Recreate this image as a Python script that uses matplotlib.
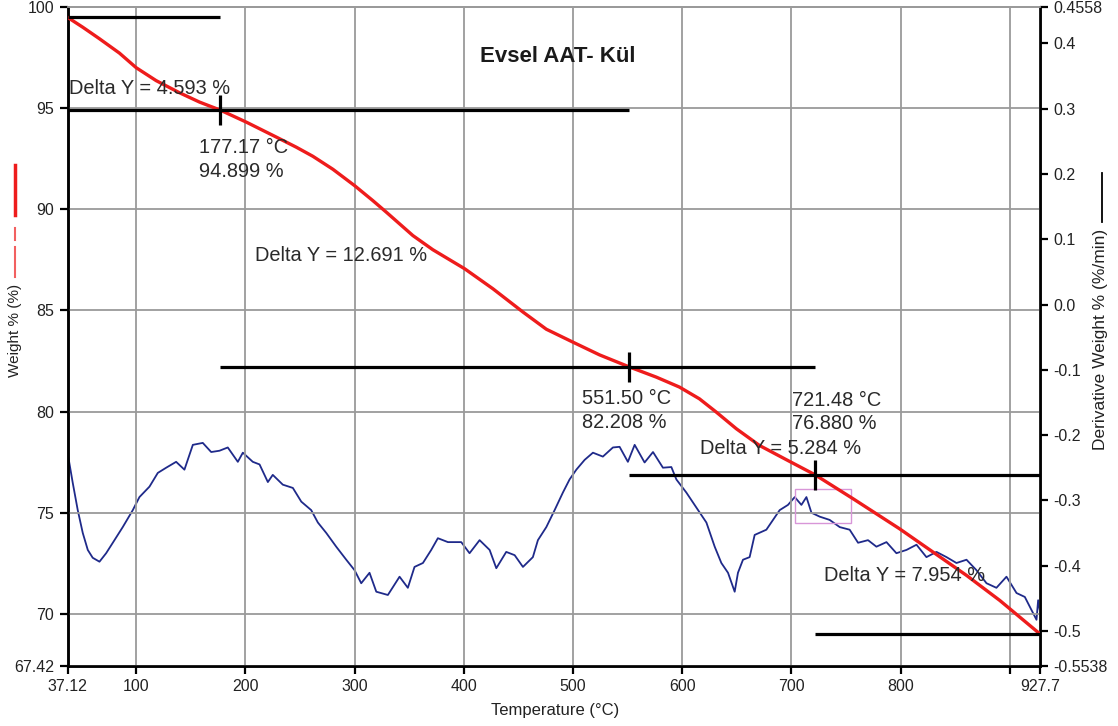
"""TGA / DTG plot: Evsel AAT- Kül."""
import matplotlib
matplotlib.use("Agg")
import matplotlib.pyplot as plt
from matplotlib.lines import Line2D
from matplotlib.patches import Rectangle

plt.rcParams["font.family"] = ["Liberation Sans", "DejaVu Sans"]

# Weight % curve (left axis)
red_t = [37.12, 51.1, 66.4, 84.7, 100.0, 118.3, 139.7, 158.0, 177.17, 200.8,
         228.3, 246.6, 261.8, 280.1, 300.0, 316.7, 329.0, 341.2, 353.4, 371.7,
         400.8, 426.7, 454.2, 475.6, 500.0, 524.4, 551.5, 576.4, 597.5, 615.8,
         631.3, 649.6, 670.9, 695.4, 721.48, 756.5, 799.2, 829.8, 860.4, 890.9,
         926.0, 927.7]
red_w = [99.49, 99.00, 98.43, 97.72, 97.00, 96.36, 95.76, 95.30, 94.899, 94.31,
         93.57, 93.07, 92.62, 91.98, 91.17, 90.43, 89.86, 89.28, 88.70, 88.00,
         87.06, 86.07, 84.92, 84.07, 83.43, 82.80, 82.208, 81.70, 81.21, 80.63,
         79.97, 79.15, 78.32, 77.62, 76.880, 75.69, 74.20, 73.05, 71.90, 70.66,
         69.08, 69.00]

# Derivative weight curve (right axis)
blue_t = [37.12, 37.4, 37.8, 41.9, 46.5, 51.1, 55.7, 60.2, 66.4, 72.5,
          78.6, 87.7, 96.9, 103.0, 112.2, 119.8, 127.5, 136.6, 144.2, 151.9,
          161.0, 168.7, 176.3, 183.9, 193.1, 197.7, 206.8, 213.0, 220.6, 225.1,
          234.3, 243.5, 251.2, 260.3, 266.4, 274.1, 283.2, 292.4, 300.0, 306.1,
          313.7, 319.9, 330.5, 335.1, 341.2, 348.8, 354.9, 362.6, 370.2, 376.3,
          385.5, 397.7, 405.3, 414.5, 423.7, 429.8, 438.9, 446.6, 454.2, 463.3,
          467.9, 475.6, 483.2, 490.8, 496.9, 503.1, 510.7, 518.3, 527.4, 536.6,
          542.7, 550.3, 556.5, 565.6, 573.3, 582.4, 590.1, 594.7, 603.8, 613.0,
          622.2, 629.8, 635.9, 642.0, 648.1, 651.1, 655.7, 661.8, 666.4, 677.1,
          683.2, 689.3, 696.9, 703.1, 709.2, 713.8, 718.4, 726.0, 735.1, 744.3,
          753.4, 761.1, 770.2, 777.9, 787.1, 796.2, 805.4, 814.6, 823.7, 832.9,
          842.1, 851.2, 860.4, 869.5, 878.7, 887.8, 897.0, 906.2, 913.8, 919.9,
          924.5, 926.0, 927.7]
blue_v = [-0.509, -0.212, -0.233, -0.273, -0.315, -0.350, -0.376, -0.388, -0.394, -0.381,
          -0.365, -0.341, -0.315, -0.295, -0.279, -0.258, -0.250, -0.241, -0.253, -0.215,
          -0.212, -0.226, -0.224, -0.219, -0.241, -0.227, -0.241, -0.245, -0.272, -0.261,
          -0.276, -0.281, -0.302, -0.315, -0.334, -0.350, -0.371, -0.391, -0.407, -0.427,
          -0.411, -0.440, -0.445, -0.433, -0.417, -0.434, -0.402, -0.396, -0.376, -0.358,
          -0.364, -0.364, -0.381, -0.361, -0.376, -0.404, -0.379, -0.384, -0.402, -0.387,
          -0.361, -0.341, -0.315, -0.288, -0.268, -0.253, -0.238, -0.227, -0.233, -0.219,
          -0.218, -0.241, -0.215, -0.242, -0.226, -0.250, -0.249, -0.268, -0.288, -0.311,
          -0.334, -0.371, -0.396, -0.411, -0.440, -0.411, -0.391, -0.387, -0.353, -0.345,
          -0.330, -0.315, -0.307, -0.295, -0.307, -0.295, -0.319, -0.325, -0.330, -0.341,
          -0.345, -0.365, -0.361, -0.371, -0.364, -0.381, -0.376, -0.368, -0.387, -0.379,
          -0.387, -0.396, -0.391, -0.407, -0.427, -0.434, -0.417, -0.442, -0.448, -0.468,
          -0.483, -0.453, -0.470]

# Step analysis markers
marker_t = [177.17, 551.50, 721.48]
marker_w = [94.899, 82.208, 76.880]
level_w = [99.492, 94.899, 82.208, 76.880, 69.00]
level_start = [37.12, 37.12, 177.17, 551.50, 721.48]
level_end = [177.17, 551.50, 721.48, 927.7, 927.7]
delta_labels = ["Delta Y = 4.593 %", "Delta Y = 12.691 %", "Delta Y = 5.284 %", "Delta Y = 7.954 %"]
delta_pos = [(38.9, 95.95), (208.4, 87.70), (616.0, 78.15), (729.6, 71.90)]
point_labels = ["177.17 °C\n94.899 %", "551.50 °C\n82.208 %", "721.48 °C\n76.880 %"]
point_pos = [(157.1, 92.47), (507.9, 80.05), (700.3, 79.97)]

x_ticks = [37.12, 100, 200, 300, 400, 500, 600, 700, 800, 900, 927.7]
x_labels = ["37.12", "100", "200", "300", "400", "500", "600", "700", "800", "", "927.7"]
yl_ticks = [67.42, 70, 75, 80, 85, 90, 95, 100]
yl_labels = ["67.42", "70", "75", "80", "85", "90", "95", "100"]
yr_ticks = [0.4558, 0.4, 0.3, 0.2, 0.1, 0.0, -0.1, -0.2, -0.3, -0.4, -0.5, -0.5538]
yr_labels = ["0.4558", "0.4", "0.3", "0.2", "0.1", "0.0", "-0.1", "-0.2", "-0.3", "-0.4",
             "-0.5", "-0.5538"]

W, H = 1118, 726
fig = plt.figure(figsize=(W / 100, H / 100), dpi=100)
ax = fig.add_axes([67.5 / W, 1 - 666 / H, (1040 - 67.5) / W, (666 - 7) / H])
ax2 = ax.twinx()
ax.set_zorder(2)
ax.patch.set_visible(False)
ax2.set_zorder(1)

tick_col = "#222222"
grid_col = "#9a9a9a"

# derivative curve
ax2.plot(blue_t, blue_v, color="#1f2a8a", lw=1.3)
ax2.set_ylim(-0.5538, 0.4558)
ax2.set_yticks(yr_ticks)
ax2.set_yticklabels(yr_labels)

# weight curve
ax.plot(red_t, red_w, color="#ee1c1c", lw=2.4, zorder=4, solid_joinstyle="round")
ax.set_xlim(37.12, 927.7)
ax.set_ylim(67.42, 100)
ax.set_xticks(x_ticks)
ax.set_xticklabels(x_labels)
ax.set_yticks(yl_ticks)
ax.set_yticklabels(yl_labels)
ax.grid(True, color=grid_col, lw=1.3)
ax.set_axisbelow(True)

# step lines and crosses
ax.hlines(level_w, level_start, level_end, color="black", lw=2.3, zorder=5)
ax.vlines(marker_t, [w - 0.74 for w in marker_w], [w + 0.74 for w in marker_w],
          color="black", lw=2.3, zorder=5)
ax.add_patch(Rectangle((703.0, 74.50), 51.8, 1.65, fill=False, ec="#d896d8", lw=1.0, zorder=3))

for lab, (tx, ty) in zip(delta_labels, delta_pos):
    ax.text(tx, ty, lab, fontsize=14.4, color="#2a2a2a", ha="left", va="center", zorder=6)
for lab, (tx, ty) in zip(point_labels, point_pos):
    ax.text(tx, ty, lab, fontsize=14.4, color="#2a2a2a", ha="left", va="center",
            linespacing=1.3, zorder=6)

for a in (ax, ax2):
    for s in ("left", "right", "bottom"):
        a.spines[s].set_color("black")
        a.spines[s].set_linewidth(1.8)
    a.spines["top"].set_color(grid_col)
    a.spines["top"].set_linewidth(1.3)
ax.tick_params(axis="both", direction="out", length=6, width=1.6, labelsize=11.5,
               labelcolor=tick_col, color="black")
ax2.tick_params(axis="y", direction="out", length=6, width=1.6, labelsize=11.5,
                labelcolor=tick_col, color="black")

fig.text(557.5 / W, 1 - 56.7 / H, "Evsel AAT- Kül", fontsize=16, fontweight="bold",
         ha="center", va="center", color="#1a1a1a")
fig.text(555 / W, 1 - 711 / H, "Temperature (°C)", fontsize=12, ha="center", va="center",
         color=tick_col)
fig.text(15 / W, 1 - 330 / H, "Weight % (%)", fontsize=11, rotation=90, ha="center",
         va="center", color=tick_col)
fig.text(1101 / W, 1 - 339 / H, "Derivative Weight % (%/min)", fontsize=12.5, rotation=90,
         ha="center", va="center", color=tick_col)

# rotated legend samples next to the axis labels
fig.add_artist(Line2D([15 / W, 15 / W], [1 - 165 / H, 1 - 215 / H], color="#ee1c1c", lw=2.5))
fig.add_artist(Line2D([15 / W, 15 / W], [1 - 228 / H, 1 - 240 / H], color="#f26060", lw=1.5))
fig.add_artist(Line2D([15 / W, 15 / W], [1 - 247 / H, 1 - 277 / H], color="#f26060", lw=1.5))
fig.add_artist(Line2D([1102 / W, 1102 / W], [1 - 173 / H, 1 - 222 / H], color="black", lw=1.3))

fig.savefig("out.png", dpi=100)
